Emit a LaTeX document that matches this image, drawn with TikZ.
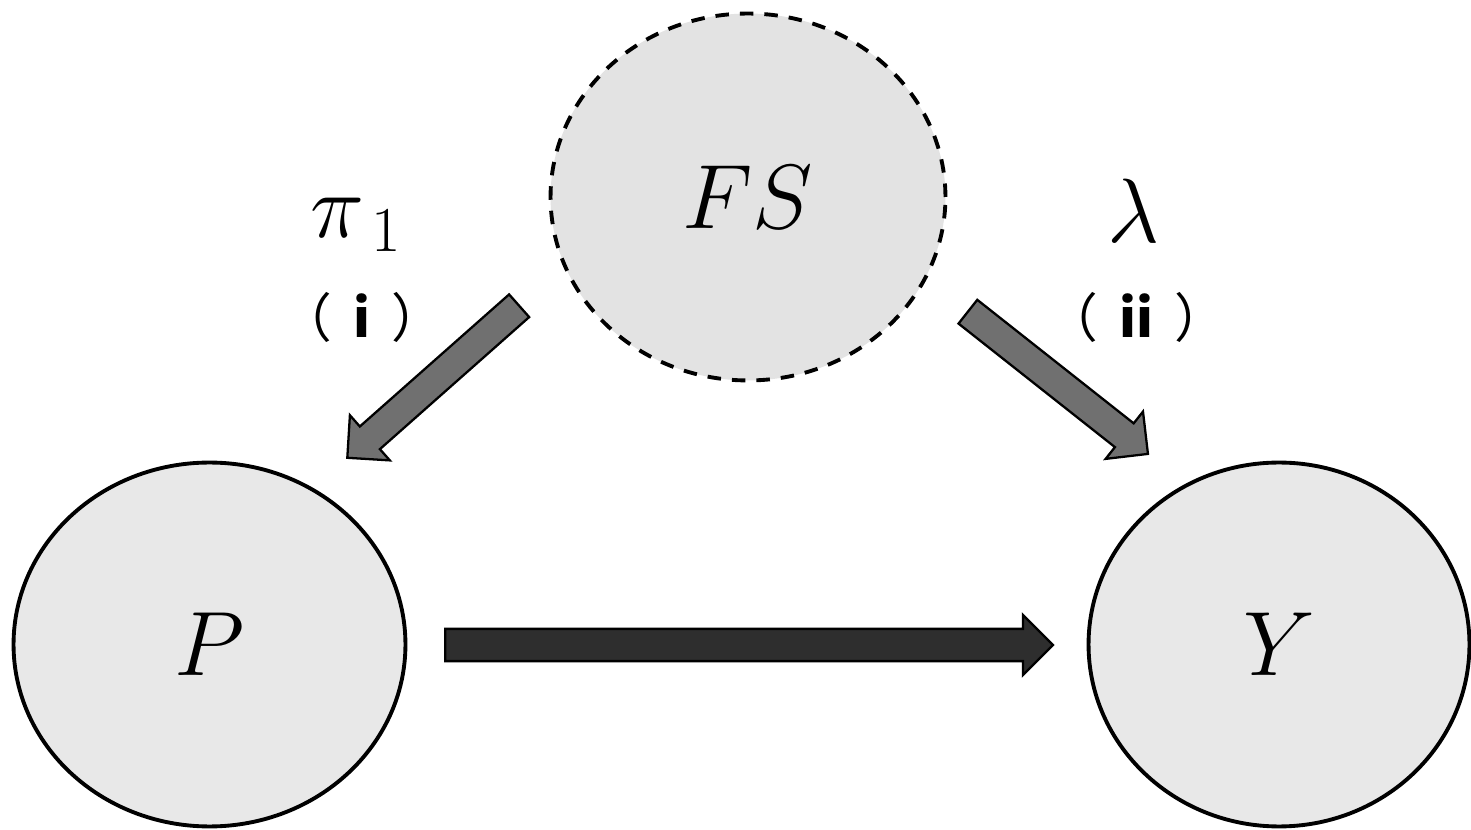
\RequirePackage{fix-cm}
\documentclass[tikz,border=0pt]{standalone}
\usepackage{fontspec}
\newfontfamily\cjkfont{Noto Sans CJK SC}
\usetikzlibrary{shapes.geometric,shapes.arrows,calc}
\definecolor{nodefill}{HTML}{E8E8E8}
\definecolor{fsfill}{HTML}{E3E3E3}
\definecolor{diagfill}{HTML}{707070}
\definecolor{mainfill}{HTML}{2E2E2E}
\begin{document}
\begin{tikzpicture}[x=0.02cm,y=-0.02cm,
  var/.style={ellipse, draw=black, line width=2.2pt, inner sep=0pt,
    font=\fontsize{52}{60}\selectfont},
  blockarrow/.style={single arrow, draw=black, line width=1.3pt, inner xsep=0pt,
    inner ysep=0.28cm, single arrow head extend=0.3cm, anchor=tail},
  mathlbl/.style={inner sep=0pt, anchor=base, font=\fontsize{52}{60}\selectfont},
  parenlbl/.style={inner sep=0pt, font=\cjkfont\fontsize{30}{36}\selectfont}]
\useasboundingbox (0,0) rectangle (1471,830);
% variables
\node[var, fill=fsfill, dash pattern=on 0.27cm off 0.22cm,
      minimum width=7.9cm, minimum height=7.34cm] (FS) at (748,197) {$FS$};
\node[var, fill=nodefill, minimum width=7.84cm, minimum height=7.28cm] (P) at (209.5,644.5) {$P$};
\node[var, fill=nodefill, minimum width=7.62cm, minimum height=7.28cm] (Y) at (1279,644.5) {$Y$};
% arrow tails
\coordinate (t1) at (520,305);
\coordinate (t2) at (967,311);
\coordinate (t3) at (444,645);
% block arrows
\node[blockarrow, fill=diagfill, minimum height=4.59cm, rotate=221.5] (a1) at (t1) {};
\node[blockarrow, fill=diagfill, minimum height=4.59cm, rotate=-38.3] (a2) at (t2) {};
\node[blockarrow, fill=mainfill, minimum height=12.16cm, inner ysep=0.3cm,
      single arrow head extend=0.28cm] (a3) at (t3) {};
% labels
\node[mathlbl] (pi) at (356,238) {$\pi_{\,1}$};
\node[parenlbl] (li) at (362,317) {（\hspace{0.4em}{\bfseries i}\hspace{0.4em}）};
\node[mathlbl] (lam) at (1134,243) {$\lambda$};
\node[parenlbl] (lii) at (1136,317) {（\hspace{0.4em}{\bfseries ii}\hspace{0.4em}）};
\end{tikzpicture}
\end{document}
